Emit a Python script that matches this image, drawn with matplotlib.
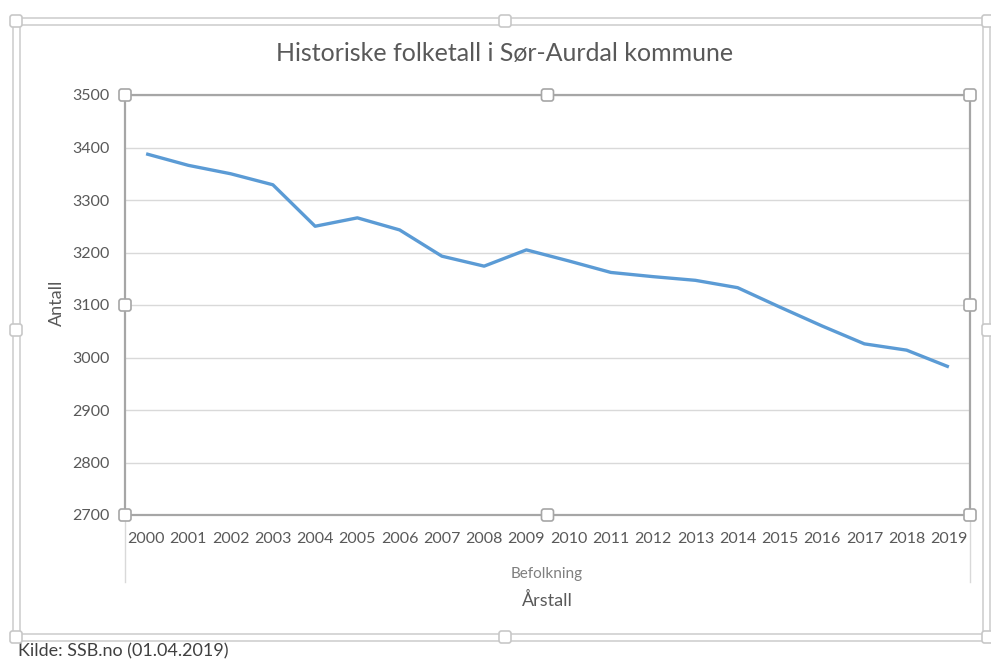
import matplotlib
matplotlib.use("Agg")
import matplotlib.pyplot as plt
from matplotlib.patches import FancyBboxPatch, Rectangle
import numpy as np

years = [str(y) for y in range(2000, 2020)]
befolkning = [3388, 3366, 3350, 3329, 3250, 3266, 3243, 3193, 3174, 3205,
              3184, 3162, 3154, 3147, 3133, 3096, 3060, 3026, 3014, 2982]
y_ticks = [2700, 2800, 2900, 3000, 3100, 3200, 3300, 3400, 3500]

plt.rcParams['font.family'] = ['Lato', 'DejaVu Sans']
txt = '#595959'
W, H = 991, 659

fig = plt.figure(figsize=(W / 100, H / 100), dpi=100)

# plot area in pixels: left 125, right 970, top 95, bottom 515
L, R, T, B = 125, 970, 95, 515
ax = fig.add_axes([L / W, 1 - B / H, (R - L) / W, (B - T) / H])
ax.plot(range(len(years)), befolkning, color='#5b9bd5', lw=2.4,
        solid_capstyle='butt', zorder=3)
ax.set_xlim(-0.5, len(years) - 0.5)
ax.set_ylim(2700, 3500)
ax.set_yticks(y_ticks)
ax.set_yticklabels([str(v) for v in y_ticks])
ax.set_xticks(range(len(years)))
ax.set_xticklabels(years)
ax.tick_params(axis='both', length=0, labelsize=11.5, colors=txt)
ax.tick_params(axis='x', pad=12)
ax.tick_params(axis='y', pad=11)
ax.grid(axis='y', color='#d9d9d9', lw=1)
ax.set_axisbelow(True)
for s in ax.spines.values():
    s.set_color('#a6a6a6')
    s.set_linewidth(1.6)

# overlay in pixel coordinates for frame, handles and texts
ov = fig.add_axes([0, 0, 1, 1], zorder=10)
ov.set_xlim(0, W)
ov.set_ylim(H, 0)
ov.axis('off')
ov.patch.set_alpha(0)

# chart frame (double line)
ov.add_patch(Rectangle((13, 18), 977, 623, fill=False, ec='#d0d0d0', lw=1.2))
ov.add_patch(Rectangle((20, 25), 963, 609, fill=False, ec='#d0d0d0', lw=1.2))

# category axis separator lines
ov.plot([L, L], [B, 582], color='#d9d9d9', lw=1)
ov.plot([R, R], [B, 582], color='#d9d9d9', lw=1)


def handle(x, y, s, ec='#a6a6a6'):
    ov.add_patch(FancyBboxPatch((x - s / 2, y - s / 2), s, s,
                                boxstyle='round,pad=0,rounding_size=2.5',
                                fc='white', ec=ec, lw=1.2, zorder=12))


for hx, hy in [(L, T), ((L + R) / 2, T), (R, T), (L, (T + B) / 2),
               (R, (T + B) / 2), (L, B), ((L + R) / 2, B), (R, B)]:
    handle(hx, hy, 12)

for hx, hy in [(16, 21), (505, 21), (988, 21), (16, 330), (988, 330),
               (16, 637), (505, 637), (988, 637)]:
    handle(hx, hy, 12, ec='#c8c8c8')

ov.text(505, 53, 'Historiske folketall i Sør-Aurdal kommune', ha='center',
        va='center', fontsize=18, color=txt)
ov.text(57, 303, 'Antall', ha='center', va='center', rotation=90,
        fontsize=13, color=txt)
ov.text(547, 574, 'Befolkning', ha='center', va='center', fontsize=11,
        color='#7f7f7f')
ov.text(547, 600, 'Årstall', ha='center', va='center', fontsize=13,
        color=txt)
ov.text(18, 651, 'Kilde: SSB.no (01.04.2019)', ha='left', va='center',
        fontsize=13, color='#404040')

fig.savefig('out.png', dpi=100)
